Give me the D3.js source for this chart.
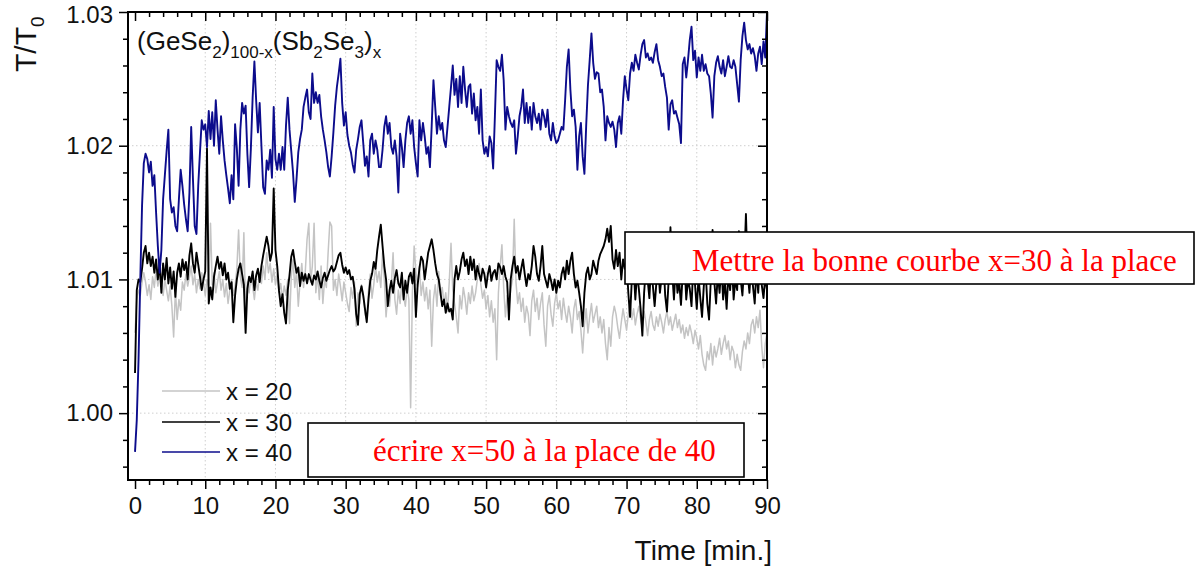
<!DOCTYPE html>
<html>
<head>
<meta charset="utf-8">
<script src="https://cdn.jsdelivr.net/npm/d3@7"></script>
<style>
  body { margin: 0; background: #fff; }
  svg { display: block; }
</style>
</head>
<body>
<svg id="chart" width="1200" height="571"></svg>
<script>
// Transmission ratio T/T0 recorded every quarter minute
const SAMPLE_STEP = 0.25; // min

const seriesLabels = ["x = 20", "x = 30", "x = 40"];

const ratioX20 = [
  1.0060, 1.0085, 1.0092, 1.0088, 1.0098, 1.0105, 1.0098, 1.0088,
  1.0096, 1.0085, 1.0102, 1.0094, 1.0108, 1.0095, 1.0104, 1.0098,
  1.0088, 1.0100, 1.0092, 1.0084, 1.0095, 1.0080, 1.0057, 1.0092,
  1.0070, 1.0085, 1.0077, 1.0098, 1.0092, 1.0104, 1.0095, 1.0102,
  1.0110, 1.0096, 1.0104, 1.0090, 1.0100, 1.0093, 1.0105, 1.0098,
  1.0088, 1.0100, 1.0094, 1.0142, 1.0096, 1.0105, 1.0090, 1.0098,
  1.0106, 1.0092, 1.0100, 1.0087, 1.0097, 1.0082, 1.0092, 1.0100,
  1.0088, 1.0095, 1.0108, 1.0137, 1.0102, 1.0094, 1.0135, 1.0075,
  1.0098, 1.0090, 1.0102, 1.0095, 1.0085, 1.0098, 1.0092, 1.0105,
  1.0097, 1.0110, 1.0100, 1.0120, 1.0105, 1.0112, 1.0098, 1.0108,
  1.0096, 1.0104, 1.0090, 1.0097, 1.0085, 1.0095, 1.0088, 1.0100,
  1.0067, 1.0102, 1.0115, 1.0094, 1.0106, 1.0080, 1.0098, 1.0112,
  1.0094, 1.0106, 1.0130, 1.0142, 1.0098, 1.0110, 1.0142, 1.0090,
  1.0104, 1.0085, 1.0110, 1.0082, 1.0100, 1.0094, 1.0120, 1.0143,
  1.0140, 1.0092, 1.0100, 1.0088, 1.0104, 1.0095, 1.0084, 1.0098,
  1.0090, 1.0082, 1.0076, 1.0094, 1.0086, 1.0098, 1.0065, 1.0090,
  1.0082, 1.0096, 1.0088, 1.0074, 1.0070, 1.0092, 1.0104, 1.0086,
  1.0096, 1.0110, 1.0098, 1.0106, 1.0094, 1.0120, 1.0100, 1.0072,
  1.0088, 1.0080, 1.0096, 1.0120, 1.0085, 1.0074, 1.0092, 1.0082,
  1.0098, 1.0087, 1.0080, 1.0094, 1.0085, 1.0004, 1.0090, 1.0125,
  1.0105, 1.0095, 1.0110, 1.0088, 1.0098, 1.0084, 1.0094, 1.0078,
  1.0092, 1.0050, 1.0085, 1.0096, 1.0080, 1.0106, 1.0088, 1.0094,
  1.0082, 1.0090, 1.0076, 1.0098, 1.0127, 1.0092, 1.0082, 1.0072,
  1.0060, 1.0088, 1.0078, 1.0094, 1.0086, 1.0074, 1.0090, 1.0082,
  1.0095, 1.0084, 1.0090, 1.0100, 1.0112, 1.0096, 1.0086, 1.0092,
  1.0078, 1.0088, 1.0072, 1.0084, 1.0068, 1.0078, 1.0040, 1.0090,
  1.0110, 1.0126, 1.0094, 1.0072, 1.0088, 1.0080, 1.0092, 1.0100,
  1.0145, 1.0098, 1.0082, 1.0090, 1.0076, 1.0086, 1.0068, 1.0080,
  1.0074, 1.0058, 1.0084, 1.0092, 1.0076, 1.0086, 1.0070, 1.0082,
  1.0090, 1.0066, 1.0050, 1.0080, 1.0088, 1.0074, 1.0065, 1.0082,
  1.0090, 1.0078, 1.0084, 1.0070, 1.0086, 1.0076, 1.0068, 1.0080,
  1.0072, 1.0060, 1.0078, 1.0085, 1.0070, 1.0076, 1.0062, 1.0045,
  1.0066, 1.0078, 1.0060, 1.0072, 1.0082, 1.0068, 1.0074, 1.0080,
  1.0064, 1.0072, 1.0060, 1.0070, 1.0052, 1.0040, 1.0064, 1.0050,
  1.0072, 1.0080, 1.0074, 1.0064, 1.0056, 1.0068, 1.0078, 1.0070,
  1.0062, 1.0074, 1.0083, 1.0070, 1.0078, 1.0066, 1.0074, 1.0080,
  1.0070, 1.0064, 1.0076, 1.0068, 1.0058, 1.0070, 1.0076, 1.0066,
  1.0062, 1.0072, 1.0065, 1.0074, 1.0068, 1.0060, 1.0070, 1.0076,
  1.0066, 1.0072, 1.0062, 1.0068, 1.0074, 1.0064, 1.0070, 1.0060,
  1.0066, 1.0056, 1.0064, 1.0058, 1.0066, 1.0060, 1.0052, 1.0062,
  1.0056, 1.0048, 1.0058, 1.0044, 1.0036, 1.0032, 1.0046, 1.0040,
  1.0052, 1.0036, 1.0050, 1.0042, 1.0048, 1.0056, 1.0044, 1.0052,
  1.0058, 1.0048, 1.0054, 1.0040, 1.0050, 1.0046, 1.0034, 1.0044,
  1.0036, 1.0032, 1.0046, 1.0054, 1.0048, 1.0060, 1.0052, 1.0066,
  1.0070, 1.0060, 1.0072, 1.0064, 1.0077, 1.0050, 1.0034, 1.0052,
  1.0060
];

const ratioX30 = [
  1.0030, 1.0092, 1.0100, 1.0098, 1.0108, 1.0120, 1.0125, 1.0112,
  1.0120, 1.0110, 1.0117, 1.0105, 1.0115, 1.0100, 1.0112, 1.0090,
  1.0112, 1.0100, 1.0116, 1.0097, 1.0109, 1.0093, 1.0106, 1.0087,
  1.0105, 1.0112, 1.0102, 1.0115, 1.0107, 1.0113, 1.0100, 1.0118,
  1.0127, 1.0112, 1.0105, 1.0120, 1.0111, 1.0102, 1.0092, 1.0100,
  1.0106, 1.0198, 1.0082, 1.0094, 1.0085, 1.0102, 1.0110, 1.0117,
  1.0108, 1.0113, 1.0103, 1.0112, 1.0100, 1.0105, 1.0093, 1.0098,
  1.0068, 1.0088, 1.0100, 1.0108, 1.0112, 1.0104, 1.0096, 1.0060,
  1.0093, 1.0102, 1.0098, 1.0106, 1.0092, 1.0103, 1.0108, 1.0098,
  1.0110, 1.0118, 1.0125, 1.0132, 1.0125, 1.0114, 1.0120, 1.0168,
  1.0122, 1.0110, 1.0092, 1.0080, 1.0089, 1.0075, 1.0067, 1.0092,
  1.0103, 1.0117, 1.0122, 1.0113, 1.0105, 1.0109, 1.0095, 1.0105,
  1.0099, 1.0104, 1.0097, 1.0104, 1.0100, 1.0096, 1.0103, 1.0100,
  1.0106, 1.0099, 1.0094, 1.0101, 1.0105, 1.0099, 1.0103, 1.0107,
  1.0110, 1.0106, 1.0108, 1.0113, 1.0118, 1.0120, 1.0111, 1.0105,
  1.0109, 1.0104, 1.0107, 1.0100, 1.0102, 1.0093, 1.0074, 1.0066,
  1.0089, 1.0095, 1.0088, 1.0078, 1.0068, 1.0085, 1.0099, 1.0104,
  1.0113, 1.0108, 1.0122, 1.0132, 1.0141, 1.0125, 1.0110, 1.0100,
  1.0080, 1.0092, 1.0099, 1.0090, 1.0101, 1.0107, 1.0097, 1.0094,
  1.0105, 1.0085, 1.0099, 1.0090, 1.0102, 1.0105, 1.0097, 1.0108,
  1.0072, 1.0096, 1.0108, 1.0117, 1.0114, 1.0100, 1.0110, 1.0120,
  1.0125, 1.0130, 1.0122, 1.0112, 1.0104, 1.0100, 1.0090, 1.0080,
  1.0085, 1.0075, 1.0082, 1.0076, 1.0078, 1.0070, 1.0100, 1.0110,
  1.0100, 1.0106, 1.0115, 1.0120, 1.0110, 1.0115, 1.0104, 1.0117,
  1.0107, 1.0115, 1.0100, 1.0110, 1.0104, 1.0099, 1.0108, 1.0104,
  1.0094, 1.0104, 1.0110, 1.0099, 1.0105, 1.0107, 1.0100, 1.0112,
  1.0109, 1.0104, 1.0110, 1.0102, 1.0098, 1.0070, 1.0100, 1.0110,
  1.0117, 1.0105, 1.0110, 1.0100, 1.0108, 1.0115, 1.0104, 1.0095,
  1.0104, 1.0100, 1.0110, 1.0125, 1.0117, 1.0104, 1.0099, 1.0110,
  1.0125, 1.0104, 1.0099, 1.0094, 1.0104, 1.0099, 1.0092, 1.0100,
  1.0090, 1.0099, 1.0094, 1.0104, 1.0109, 1.0100, 1.0114, 1.0104,
  1.0114, 1.0120, 1.0104, 1.0094, 1.0099, 1.0090, 1.0080, 1.0065,
  1.0090, 1.0104, 1.0109, 1.0100, 1.0104, 1.0114, 1.0109, 1.0104,
  1.0114, 1.0119, 1.0122, 1.0125, 1.0130, 1.0138, 1.0128, 1.0140,
  1.0115, 1.0108, 1.0122, 1.0110, 1.0120, 1.0100, 1.0115, 1.0108,
  1.0114, 1.0090, 1.0072, 1.0100, 1.0110, 1.0085, 1.0105, 1.0093,
  1.0078, 1.0058, 1.0090, 1.0108, 1.0100, 1.0086, 1.0112, 1.0095,
  1.0080, 1.0098, 1.0110, 1.0090, 1.0102, 1.0115, 1.0088, 1.0076,
  1.0100, 1.0139, 1.0105, 1.0085, 1.0110, 1.0090, 1.0098, 1.0081,
  1.0105, 1.0112, 1.0085, 1.0100, 1.0093, 1.0080, 1.0110, 1.0096,
  1.0078, 1.0102, 1.0086, 1.0072, 1.0095, 1.0108, 1.0082, 1.0070,
  1.0100, 1.0137, 1.0098, 1.0082, 1.0105, 1.0090, 1.0112, 1.0085,
  1.0099, 1.0078, 1.0104, 1.0092, 1.0112, 1.0085, 1.0100, 1.0092,
  1.0136, 1.0100, 1.0088, 1.0110, 1.0149, 1.0105, 1.0090, 1.0112,
  1.0095, 1.0082, 1.0108, 1.0090, 1.0115, 1.0096, 1.0086, 1.0102,
  1.0092
];

const ratioX40 = [
  0.9971, 0.9995, 1.0040, 1.0100, 1.0155, 1.0187, 1.0194, 1.0190,
  1.0180, 1.0188, 1.0170, 1.0178, 1.0150, 1.0125, 1.0105, 1.0122,
  1.0160, 1.0178, 1.0196, 1.0212, 1.0160, 1.0150, 1.0154, 1.0140,
  1.0136, 1.0160, 1.0182, 1.0170, 1.0156, 1.0145, 1.0136, 1.0165,
  1.0214, 1.0175, 1.0140, 1.0134, 1.0170, 1.0195, 1.0219, 1.0212,
  1.0216, 1.0199, 1.0226, 1.0205, 1.0225, 1.0200, 1.0234, 1.0212,
  1.0194, 1.0222, 1.0204, 1.0189, 1.0178, 1.0168, 1.0157, 1.0178,
  1.0160, 1.0216, 1.0198, 1.0170, 1.0212, 1.0232, 1.0224, 1.0230,
  1.0194, 1.0169, 1.0198, 1.0236, 1.0263, 1.0234, 1.0210, 1.0232,
  1.0200, 1.0169, 1.0164, 1.0189, 1.0182, 1.0197, 1.0176, 1.0229,
  1.0190, 1.0182, 1.0194, 1.0182, 1.0199, 1.0182, 1.0215, 1.0236,
  1.0212, 1.0196, 1.0180, 1.0158, 1.0175, 1.0195, 1.0205, 1.0212,
  1.0229, 1.0236, 1.0242, 1.0225, 1.0220, 1.0254, 1.0232, 1.0240,
  1.0232, 1.0238, 1.0222, 1.0212, 1.0204, 1.0195, 1.0184, 1.0177,
  1.0192, 1.0210, 1.0230, 1.0244, 1.0254, 1.0265, 1.0232, 1.0215,
  1.0225, 1.0208, 1.0200, 1.0195, 1.0186, 1.0180, 1.0197, 1.0205,
  1.0214, 1.0219, 1.0202, 1.0185, 1.0192, 1.0177, 1.0204, 1.0209,
  1.0194, 1.0204, 1.0197, 1.0184, 1.0184, 1.0197, 1.0214, 1.0222,
  1.0209, 1.0217, 1.0199, 1.0194, 1.0204, 1.0192, 1.0165, 1.0209,
  1.0199, 1.0184, 1.0204, 1.0217, 1.0222, 1.0209, 1.0219, 1.0199,
  1.0187, 1.0177, 1.0219, 1.0204, 1.0217, 1.0207, 1.0194, 1.0199,
  1.0184, 1.0215, 1.0249, 1.0229, 1.0209, 1.0222, 1.0212, 1.0217,
  1.0204, 1.0199, 1.0214, 1.0229, 1.0244, 1.0260, 1.0238, 1.0250,
  1.0229, 1.0252, 1.0232, 1.0259, 1.0242, 1.0229, 1.0244, 1.0246,
  1.0224, 1.0239, 1.0219, 1.0229, 1.0209, 1.0242, 1.0204, 1.0194,
  1.0199, 1.0192, 1.0207, 1.0202, 1.0183, 1.0222, 1.0264, 1.0259,
  1.0256, 1.0268, 1.0249, 1.0212, 1.0229, 1.0222, 1.0217, 1.0214,
  1.0219, 1.0194, 1.0207, 1.0222, 1.0229, 1.0242, 1.0217, 1.0232,
  1.0217, 1.0229, 1.0212, 1.0232, 1.0222, 1.0217, 1.0224, 1.0212,
  1.0227, 1.0222, 1.0214, 1.0227, 1.0209, 1.0204, 1.0217, 1.0207,
  1.0202, 1.0204, 1.0209, 1.0214, 1.0212, 1.0234, 1.0259, 1.0272,
  1.0242, 1.0222, 1.0227, 1.0214, 1.0182, 1.0207, 1.0217, 1.0192,
  1.0179, 1.0215, 1.0245, 1.0264, 1.0284, 1.0262, 1.0250, 1.0255,
  1.0254, 1.0240, 1.0242, 1.0229, 1.0204, 1.0222, 1.0217, 1.0214,
  1.0218, 1.0212, 1.0199, 1.0217, 1.0222, 1.0209, 1.0234, 1.0252,
  1.0242, 1.0234, 1.0254, 1.0262, 1.0256, 1.0268, 1.0262, 1.0257,
  1.0268, 1.0276, 1.0279, 1.0266, 1.0269, 1.0264, 1.0266, 1.0262,
  1.0270, 1.0276, 1.0264, 1.0259, 1.0252, 1.0254, 1.0244, 1.0236,
  1.0212, 1.0231, 1.0234, 1.0224, 1.0226, 1.0221, 1.0216, 1.0202,
  1.0261, 1.0266, 1.0251, 1.0264, 1.0279, 1.0289, 1.0264, 1.0271,
  1.0251, 1.0266, 1.0256, 1.0268, 1.0256, 1.0261, 1.0254, 1.0252,
  1.0239, 1.0221, 1.0252, 1.0262, 1.0267, 1.0259, 1.0254, 1.0264,
  1.0252, 1.0259, 1.0267, 1.0259, 1.0258, 1.0264, 1.0259, 1.0246,
  1.0233, 1.0264, 1.0282, 1.0292, 1.0279, 1.0272, 1.0276, 1.0269,
  1.0273, 1.0267, 1.0256, 1.0269, 1.0274, 1.0261, 1.0278, 1.0266,
  1.0300
];

const seriesColors = ["#c4c4c4", "#000000", "#0c0c8c"];
const seriesWidths = [1.5, 1.9, 1.9];
const legendWidths = [1.4, 1.5, 1.5];

const xMajorTicks = [0, 10, 20, 30, 40, 50, 60, 70, 80, 90];
const yMajorTicks = [1.00, 1.01, 1.02, 1.03];
const xMinorStep = 2;
const yMinorStep = 0.002;

const annotations = [
  { text: "Mettre la bonne courbe x=30 à la place", box: [625, 232, 569, 52], tx: 692, ty: 271 },
  { text: "écrire x=50 à la place de 40", box: [308, 423, 436, 54], tx: 373, ty: 461 }
];

// ---- layout ----
const plot = { left: 128, right: 767, top: 12, bottom: 480 };
const svg = d3.select("#chart");
const sans = "'Liberation Sans', Arial, sans-serif";
const serif = "'Liberation Serif', 'Times New Roman', serif";

const x = d3.scaleLinear().domain([-1, 90]).range([plot.left, plot.right]);
const y = d3.scaleLinear().domain([0.995, 1.03]).range([plot.bottom, plot.top]);

const xMinor = d3.range(0, 90 + 1e-9, xMinorStep).filter(v => !xMajorTicks.includes(v));
const yMinor = d3.range(0.996, 1.03 + 1e-9, yMinorStep)
  .filter(v => !yMajorTicks.some(t => Math.abs(t - v) < 1e-7));

// dotted grid at major ticks
const grid = svg.append("g").attr("stroke", "#cfcfcf").attr("stroke-width", 1)
  .attr("stroke-dasharray", "1.5,2.5");
grid.selectAll("line.vx").data(xMajorTicks.filter(v => v > 0 && v < 90)).join("line")
  .attr("x1", d => x(d)).attr("x2", d => x(d)).attr("y1", plot.top).attr("y2", plot.bottom);
grid.selectAll("line.hy").data(yMajorTicks.filter(v => v < 1.03)).join("line")
  .attr("x1", plot.left).attr("x2", plot.right).attr("y1", d => y(d)).attr("y2", d => y(d));

// curves
svg.append("clipPath").attr("id", "plotClip").append("rect")
  .attr("x", plot.left).attr("y", plot.top - 2)
  .attr("width", plot.right - plot.left).attr("height", plot.bottom - plot.top + 2);

const allSeries = [ratioX20, ratioX30, ratioX40];
const line = d3.line().x((d, i) => x(i * SAMPLE_STEP)).y(d => y(d));
svg.append("g").attr("clip-path", "url(#plotClip)")
  .selectAll("path").data(allSeries).join("path")
  .attr("d", d => line(d))
  .attr("fill", "none")
  .attr("stroke", (d, i) => seriesColors[i])
  .attr("stroke-width", (d, i) => seriesWidths[i])
  .attr("stroke-linejoin", "round");

// axes
function styleAxis(g, labels) {
  g.select(".domain").remove();
  g.selectAll(".tick line").attr("stroke", "#000").attr("stroke-width", 1.5);
  if (labels) {
    g.selectAll(".tick text").attr("font-family", sans).attr("font-size", 24).attr("fill", "#111");
  } else {
    g.selectAll(".tick text").remove();
  }
}
const fmtY = d3.format(".2f");

svg.append("g").attr("transform", `translate(0,${plot.bottom})`)
  .call(d3.axisBottom(x).tickValues(xMajorTicks).tickSize(9).tickPadding(8).tickFormat(d3.format("d")))
  .call(g => styleAxis(g, true));
svg.append("g").attr("transform", `translate(0,${plot.bottom})`)
  .call(d3.axisBottom(x).tickValues(xMinor).tickSize(5))
  .call(g => styleAxis(g, false));
svg.append("g").attr("transform", `translate(0,${plot.top})`)
  .call(d3.axisTop(x).tickValues(xMajorTicks).tickSize(-9))
  .call(g => styleAxis(g, false));
svg.append("g").attr("transform", `translate(0,${plot.top})`)
  .call(d3.axisTop(x).tickValues(xMinor).tickSize(-5))
  .call(g => styleAxis(g, false));

svg.append("g").attr("transform", `translate(${plot.left},0)`)
  .call(d3.axisLeft(y).tickValues(yMajorTicks).tickSize(9).tickPadding(6).tickFormat(fmtY))
  .call(g => styleAxis(g, true))
  // keep the top label inside the canvas
  .call(g => g.selectAll(".tick text").filter(d => d >= 1.03).attr("dy", "0.45em"));
svg.append("g").attr("transform", `translate(${plot.left},0)`)
  .call(d3.axisLeft(y).tickValues(yMinor).tickSize(5))
  .call(g => styleAxis(g, false));
svg.append("g").attr("transform", `translate(${plot.right},0)`)
  .call(d3.axisRight(y).tickValues(yMajorTicks).tickSize(-9))
  .call(g => styleAxis(g, false));
svg.append("g").attr("transform", `translate(${plot.right},0)`)
  .call(d3.axisRight(y).tickValues(yMinor).tickSize(-5))
  .call(g => styleAxis(g, false));

svg.append("rect")
  .attr("x", plot.left).attr("y", plot.top)
  .attr("width", plot.right - plot.left).attr("height", plot.bottom - plot.top)
  .attr("fill", "none").attr("stroke", "#000").attr("stroke-width", 2);

// axis titles
const yTitle = svg.append("text")
  .attr("transform", "translate(36,72) rotate(-90)")
  .attr("font-family", sans).attr("font-size", 30).attr("fill", "#111");
yTitle.append("tspan").text("T/T");
yTitle.append("tspan").attr("font-size", 19).attr("dy", 8).text("0");

svg.append("text")
  .attr("x", 772).attr("y", 560).attr("text-anchor", "end")
  .attr("font-family", sans).attr("font-size", 28).attr("fill", "#111")
  .text("Time [min.]");

// composition title
const comp = svg.append("text").attr("x", 137).attr("y", 50)
  .attr("font-family", sans).attr("font-size", 26).attr("fill", "#111");
[["(GeSe", 0], ["2", 1], [")", 0], ["100-x", 1], ["(Sb", 0], ["2", 1], ["Se", 0], ["3", 1], [")", 0], ["x", 1]]
  .forEach(([t, sub], i, arr) => {
    const prevSub = i > 0 ? arr[i - 1][1] : 0;
    const dy = sub && !prevSub ? 8 : (!sub && prevSub ? -8 : 0);
    const ts = comp.append("tspan").text(t);
    if (dy) ts.attr("dy", dy);
    if (sub) ts.attr("font-size", 17);
  });

// legend
const legend = svg.append("g");
const legendY = [391, 422, 452];
seriesLabels.forEach((lab, i) => {
  legend.append("line")
    .attr("x1", 162).attr("x2", 220).attr("y1", legendY[i]).attr("y2", legendY[i])
    .attr("stroke", seriesColors[i]).attr("stroke-width", legendWidths[i]);
  legend.append("text")
    .attr("x", 226).attr("y", legendY[i]).attr("dy", "0.36em")
    .attr("font-family", sans).attr("font-size", 24).attr("fill", "#111")
    .text(lab);
});

// editorial notes
annotations.forEach(a => {
  svg.append("rect")
    .attr("x", a.box[0]).attr("y", a.box[1]).attr("width", a.box[2]).attr("height", a.box[3])
    .attr("fill", "#fff").attr("stroke", "#000").attr("stroke-width", 1.6);
  svg.append("text")
    .attr("x", a.tx).attr("y", a.ty)
    .attr("font-family", serif).attr("font-size", 31).attr("fill", "#ff0000")
    .text(a.text);
});
</script>
</body>
</html>
